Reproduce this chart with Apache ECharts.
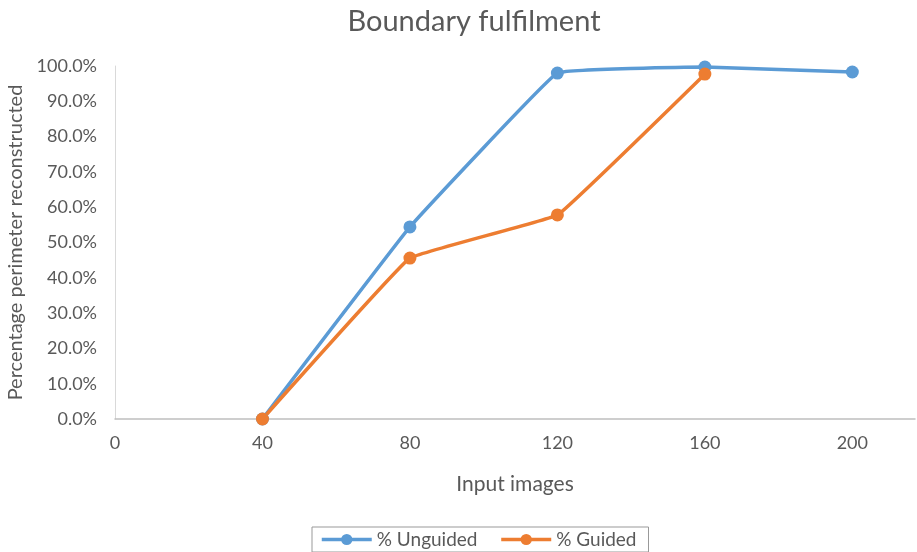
<!DOCTYPE html>
<html>
<head>
<meta charset="utf-8">
<script src="https://cdn.jsdelivr.net/npm/echarts@6/dist/echarts.min.js"></script>
<style>
  html, body { margin: 0; padding: 0; background: #fff; }
  #chart { width: 917px; height: 552px; }
</style>
</head>
<body>
<div id="chart"></div>
<script>
// input image counts and percentage of perimeter reconstructed
const inputImages = [40, 80, 120, 160, 200];
const unguided = [0, 54.4, 98.0, 99.7, 98.3];
const guided = [0, 45.6, 57.8, 97.7];

const pairs = (xs, ys) => ys.map((y, i) => [xs[i], y]);

const font = 'Lato, "Open Sans", sans-serif';
const grey = '#595959';

var myChart = echarts.init(document.getElementById('chart'));
var option = {
  animation: false,
  textStyle: { fontFamily: font },
  title: {
    text: 'Boundary fulfilment',
    left: 469,
    textAlign: 'center',
    top: 2,
    textStyle: { fontSize: 29, fontWeight: 'normal', color: grey, fontFamily: font }
  },
  legend: {
    bottom: 0,
    left: 312,
    padding: [3, 12, 3, 8],
    itemGap: 22,
    itemWidth: 50,
    itemHeight: 14,
    lineStyle: { width: 3.5 },
    borderColor: '#999',
    borderWidth: 1,
    borderRadius: 0,
    textStyle: { fontSize: 19, color: grey, fontFamily: font },
    data: ['% Unguided', '% Guided']
  },
  grid: { left: 115, right: 2, top: 66, bottom: 133, outerBoundsMode: 'none', containLabel: false },
  xAxis: {
    type: 'value',
    min: 0,
    max: 217,
    interval: 40,
    name: 'Input images',
    nameLocation: 'middle',
    nameGap: 55,
    nameTextStyle: { fontSize: 21, color: grey },
    axisLine: { lineStyle: { color: '#bfbfbf', width: 1.5 } },
    axisTick: { show: false },
    splitLine: { show: false },
    axisLabel: { fontSize: 18, color: grey, margin: 15, showMaxLabel: false }
  },
  yAxis: {
    type: 'value',
    min: 0,
    max: 100,
    interval: 10,
    name: 'Percentage perimeter reconstructed',
    nameLocation: 'middle',
    nameGap: 89,
    nameTextStyle: { fontSize: 20, color: grey },
    axisLine: { show: true, lineStyle: { color: '#d9d9d9', width: 1 } },
    axisTick: { show: false },
    splitLine: { show: false },
    axisLabel: { fontSize: 18, color: grey, margin: 18, formatter: v => v.toFixed(1) + '%' }
  },
  series: [
    {
      name: '% Unguided',
      type: 'line',
      data: pairs(inputImages, unguided),
      smooth: 0.06,
      symbol: 'circle',
      symbolSize: 13,
      itemStyle: { color: '#5B9BD5' },
      lineStyle: { width: 3.5, color: '#5B9BD5' }
    },
    {
      name: '% Guided',
      type: 'line',
      data: pairs(inputImages, guided),
      smooth: 0.06,
      symbol: 'circle',
      symbolSize: 13,
      itemStyle: { color: '#ED7D31' },
      lineStyle: { width: 3.5, color: '#ED7D31' }
    }
  ]
};
myChart.setOption(option);
</script>
</body>
</html>
